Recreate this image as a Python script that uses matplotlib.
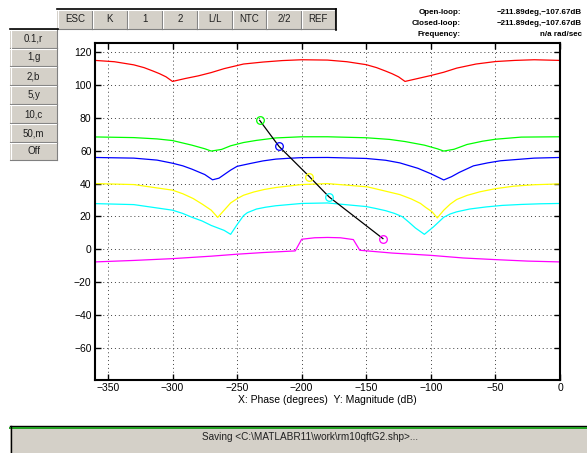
import matplotlib
matplotlib.use("Agg")
import matplotlib.pyplot as plt
from matplotlib.patches import Rectangle
from matplotlib.lines import Line2D

W, H = 587, 453
plt.rcParams['font.family'] = ['Liberation Sans', 'DejaVu Sans']

# QFT bounds on the Nichols plane, one contour per frequency (phase deg, magnitude dB)
red_phase = [-360, -345, -330, -322, -315, -310, -305, -300, -290, -280, -270, -260, -245, -230, -215, -200,
             -180, -165, -150, -142, -135, -130, -125, -120, -110, -100, -90, -80, -65, -50, -35, -20, 0]
red_mag = [115.0, 114.2, 112.3, 110.6, 108.5, 106.9, 105.0, 102.2, 104.0, 105.6, 107.6, 110.0, 112.8, 114.0, 114.9, 115.4,
           115.2, 114.2, 112.4, 110.6, 108.5, 106.9, 105.0, 102.2, 104.0, 105.8, 107.8, 110.3, 112.8, 114.3, 115.0, 115.4, 115.0]

green_phase = [-360, -330, -312, -300, -285, -275, -270, -262, -255, -245, -235, -220, -200,
               -180, -150, -132, -120, -105, -95, -90, -82, -72, -60, -50, -30, 0]
green_mag = [68.4, 68.0, 67.2, 66.2, 63.4, 61.2, 59.8, 60.8, 63.0, 65.0, 66.3, 67.8, 68.5,
             68.5, 67.9, 66.9, 65.6, 63.4, 61.2, 59.8, 60.9, 63.8, 65.8, 67.0, 68.3, 68.5]

blue_phase = [-360, -330, -312, -300, -292, -285, -275, -269, -264, -255, -250, -240, -230, -220, -210, -200,
              -180, -150, -135, -124, -110, -100, -90, -84, -78, -67, -56, -46, -20, 0]
blue_mag = [55.9, 55.5, 54.3, 52.4, 50.8, 48.8, 45.5, 42.3, 43.3, 48.2, 50.5, 52.2, 53.8, 54.9, 55.4, 55.8,
            55.9, 55.3, 54.2, 52.6, 49.3, 46.0, 42.2, 44.2, 46.8, 50.8, 52.6, 53.9, 55.5, 55.9]

yellow_phase = [-360, -330, -300, -292, -284, -277, -270, -265, -260, -255, -250, -245, -237, -229, -220, -209, -200,
                -180, -149, -124, -115, -108, -104, -99, -95, -90, -85, -80, -72, -62, -50, -36, -20, 0]
yellow_mag = [40.0, 39.4, 36.0, 33.8, 30.9, 27.5, 23.8, 19.4, 23.8, 28.2, 30.8, 32.9, 34.9, 36.4, 37.6, 38.6, 39.4,
              40.0, 38.0, 33.3, 30.6, 27.9, 25.5, 22.8, 19.1, 23.8, 27.5, 30.3, 32.8, 35.0, 36.9, 38.4, 39.3, 39.8]

cyan_phase = [-360, -330, -300, -292, -285, -277, -270, -260, -255, -250, -245, -242, -235, -228, -220, -200,
              -180, -150, -143, -135, -128, -122, -117, -112, -105, -98, -90, -85, -80, -70, -57, -45, -30, -15, 0]
cyan_mag = [27.8, 27.2, 23.8, 21.8, 19.5, 17.2, 14.5, 11.5, 9.1, 15.0, 20.5, 22.3, 24.5, 25.6, 26.5, 27.9,
            28.2, 26.0, 24.9, 23.5, 21.8, 19.8, 16.5, 13.0, 9.1, 13.6, 19.5, 21.5, 22.8, 24.5, 25.8, 26.7, 27.3, 27.7, 27.9]

magenta_phase = [-360, -330, -300, -270, -250, -230, -205, -200, -190, -180, -170, -160,
                 -155, -130, -100, -75, -50, -25, 0]
magenta_mag = [-7.7, -6.8, -5.7, -4.2, -3.0, -2.0, -1.0, 6.1, 7.0, 7.2, 7.0, 5.9,
               -0.6, -2.3, -3.7, -5.3, -6.3, -7.2, -7.7]

# nominal loop at 1, 2, 5, 10, 50 rad/sec
loop_phase = [-232.5, -217.5, -194.1, -178.8, -137.1]
loop_mag = [78.5, 62.6, 44.3, 31.9, 6.5]
loop_colors = ['#00ff00', '#0000ff', '#ffff00', '#00ffff', '#ff00ff']

top_buttons = ['ESC', 'K', '1', '2', 'L/L', 'NTC', '2/2', 'REF']
side_buttons = ['0.1,r', '1,g', '2,b', '5,y', '10,c', '50,m', 'Off']

fig = plt.figure(figsize=(W / 100, H / 100), dpi=100)


def fx(x):
    return x / W


def fy(y):
    return 1 - y / H


def hline(x0, x1, y, color, lw=1.0):
    fig.add_artist(Line2D([fx(x0), fx(x1)], [fy(y), fy(y)], color=color, lw=lw,
                          transform=fig.transFigure))


def vline(x, y0, y1, color, lw=1.0):
    fig.add_artist(Line2D([fx(x), fx(x)], [fy(y0), fy(y1)], color=color, lw=lw,
                          transform=fig.transFigure))


def button(x0, y0, x1, y1, label):
    fig.add_artist(Rectangle((fx(x0), fy(y1)), fx(x1 - x0), (y1 - y0) / H,
                             facecolor='#d4d0c8', edgecolor='none', transform=fig.transFigure))
    hline(x0, x1, y0 + 0.5, 'white', 0.8)
    vline(x0 + 0.5, y0, y1, 'white', 0.8)
    hline(x0, x1, y1 - 0.5, '#808080', 0.8)
    vline(x1 - 0.5, y0, y1, '#808080', 0.8)
    fig.text(fx((x0 + x1) / 2), fy((y0 + y1) / 2), label, ha='center', va='center',
             fontsize=7, color='#202020')


# main Nichols axes
ax = fig.add_axes([fx(95), fy(380), fx(465), 337 / H])
ax.plot(red_phase, red_mag, color='#ff0000', lw=0.9)
ax.plot(green_phase, green_mag, color='#00ff00', lw=0.9)
ax.plot(blue_phase, blue_mag, color='#0000ff', lw=0.9)
ax.plot(yellow_phase, yellow_mag, color='#ffff00', lw=0.9)
ax.plot(cyan_phase, cyan_mag, color='#00ffff', lw=0.9)
ax.plot(magenta_phase, magenta_mag, color='#ff00ff', lw=0.9)
ax.plot(loop_phase, loop_mag, color='black', lw=0.9)
for p, m, c in zip(loop_phase, loop_mag, loop_colors):
    ax.plot(p, m, 'o', mfc='none', mec=c, ms=5.5, mew=0.9)

ax.set_xlim(-360, 0)
ax.set_ylim(-79.6, 125.6)
ax.set_xticks(range(-350, 1, 50))
ax.set_yticks(range(-60, 121, 20))
ax.grid(True, linestyle=(0, (1, 3)), color='#404040', lw=0.7)
ax.tick_params(direction='in', length=4, width=1, labelsize=7.5, pad=2.5,
               top=True, right=True, colors='black')
for s in ax.spines.values():
    s.set_linewidth(1.5)
ax.set_xlabel('X: Phase (degrees)  Y: Magnitude (dB)', fontsize=7.5, labelpad=1)

# button bars
top_edges = [57.3, 92.3, 127.3, 162.3, 197.3, 232.3, 266.7, 301, 335.7]
for i, lab in enumerate(top_buttons):
    button(top_edges[i], 9.5, top_edges[i + 1], 29.3, lab)
hline(57, 336.5, 9, 'black', 1.2)
vline(336, 9, 29.5, 'black', 1.2)

side_edges = [29.3, 48.0, 66.9, 85.6, 104.5, 123.6, 142.5, 160.5]
for i, lab in enumerate(side_buttons):
    button(10, side_edges[i], 57, side_edges[i + 1], lab)
hline(10, 57.5, 29, 'black', 1.2)

# cursor readout
info_keys = ['Open-loop:', 'Closed-loop:', 'Frequency:']
info_vals = ['\u2212211.89deg,\u2212107.67dB', '\u2212211.89deg,\u2212107.67dB', 'n/a rad/sec']
for k, (key, val) in enumerate(zip(info_keys, info_vals)):
    y = 12 + 11.2 * k
    fig.text(fx(460.7), fy(y), key, ha='right', va='center', fontsize=5.8, fontweight='bold')
    fig.text(fx(581.7), fy(y), val, ha='right', va='center', fontsize=5.8, fontweight='bold')

# status bar
fig.add_artist(Rectangle((fx(10), 0), fx(577), fy(426), facecolor='#d4d0c8',
                         edgecolor='none', transform=fig.transFigure))
hline(10, 587, 426.3, 'black', 1.0)
hline(10, 587, 428.2, '#1fa01f', 1.4)
vline(10.5, 426, 453, 'black', 1.0)
fig.text(fx(310), fy(437), 'Saving <C:\\MATLABR11\\work\\rm10qftG2.shp>...', ha='center',
         va='center', fontsize=7.2, color='#202020')

fig.savefig('out.png', dpi=100)
